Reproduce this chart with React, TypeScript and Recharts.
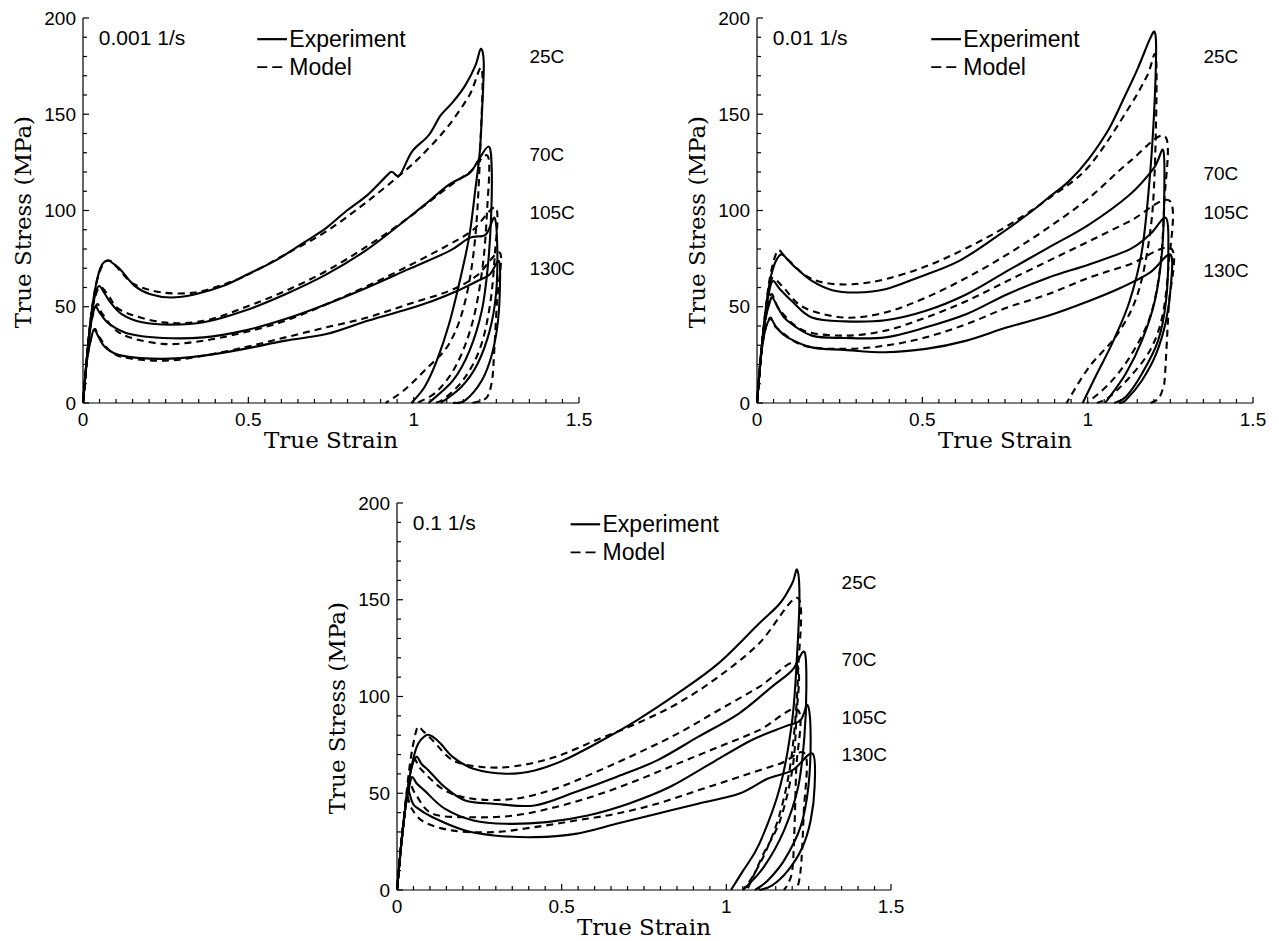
import { LineChart, Line, XAxis, YAxis, ReferenceDot, ReferenceLine } from "recharts";

type Pt = [number, number];

// axis ticks, only the major ones carry a label
const STRAIN_TICKS = [0, 0.05, 0.1, 0.15, 0.2, 0.25, 0.3, 0.35, 0.4, 0.45, 0.5, 0.55, 0.6, 0.65, 0.7, 0.75, 0.8, 0.85, 0.9, 0.95, 1, 1.05, 1.1, 1.15, 1.2, 1.25, 1.3, 1.35, 1.4, 1.45, 1.5];
const STRAIN_LABELS = [0, 0.5, 1, 1.5];
const STRESS_TICKS = [0, 10, 20, 30, 40, 50, 60, 70, 80, 90, 100, 110, 120, 130, 140, 150, 160, 170, 180, 190, 200];
const STRESS_LABELS = [0, 50, 100, 150, 200];

const TEMPS = ["25C", "70C", "105C", "130C"];
const RATES = ["0.001 1/s", "0.01 1/s", "0.1 1/s"];

// ---- 0.001 1/s ----
const r1Exp25: Pt[] = [[0, 0], [0.012, 24], [0.025, 46], [0.04, 62], [0.055, 71], [0.074, 74], [0.095, 72], [0.117, 68.6], [0.155, 61], [0.204, 56.5], [0.266, 54.8], [0.34, 56.5], [0.427, 61], [0.5, 67], [0.587, 74.5], [0.674, 84], [0.736, 91], [0.798, 100], [0.86, 108], [0.921, 118.5], [0.935, 120], [0.958, 118.5], [0.995, 130.6], [1.045, 139], [1.082, 149.5], [1.119, 156.4], [1.156, 165], [1.187, 175.4], [1.203, 184], [1.212, 177], [1.208, 156], [1.2, 130.6], [1.187, 111.6], [1.169, 87.5], [1.144, 66.8], [1.107, 41], [1.07, 22], [1.033, 8.3], [0.993, 0]];
const r1Mod25: Pt[] = [[0, 0], [0.012, 24], [0.025, 46], [0.04, 62], [0.06, 72], [0.08, 74], [0.1, 71], [0.155, 61.7], [0.241, 57.4], [0.34, 57.4], [0.427, 61.7], [0.5, 66.8], [0.612, 77.2], [0.736, 89.2], [0.86, 104.7], [0.983, 122], [1.045, 132.3], [1.107, 144.4], [1.169, 160], [1.206, 173.6], [1.203, 139], [1.187, 87.5], [1.156, 53], [1.107, 30.7], [1.033, 16.9], [0.97, 6.5], [0.915, 0]];
const r1Exp70: Pt[] = [[0, 0], [0.012, 24], [0.025, 45], [0.038, 57], [0.049, 60.8], [0.065, 57], [0.08, 53], [0.117, 46.2], [0.179, 41.9], [0.266, 40.7], [0.365, 41.9], [0.488, 47.9], [0.612, 56.5], [0.736, 66.8], [0.86, 79.8], [0.983, 96.1], [1.045, 104.7], [1.107, 113.4], [1.169, 119.4], [1.193, 125.4], [1.227, 133.2], [1.236, 122], [1.234, 96], [1.224, 70.3], [1.206, 47.9], [1.169, 27.2], [1.119, 11.7], [1.045, 0]];
const r1Mod70: Pt[] = [[0, 0], [0.012, 24], [0.025, 45], [0.04, 57], [0.056, 60], [0.08, 55], [0.117, 47.9], [0.241, 41.9], [0.365, 42.7], [0.488, 49.6], [0.612, 58.2], [0.736, 68.6], [0.86, 81.5], [0.983, 96.1], [1.107, 112.5], [1.17, 120], [1.225, 128], [1.222, 100], [1.208, 70], [1.178, 42], [1.13, 20], [1.07, 6], [1.01, 0]];
const r1Exp105: Pt[] = [[0, 0], [0.012, 24], [0.025, 42], [0.037, 50], [0.05, 47], [0.08, 41], [0.142, 35.8], [0.241, 33.8], [0.365, 34.1], [0.488, 37.6], [0.612, 43.6], [0.736, 51.3], [0.86, 60], [0.983, 69.4], [1.107, 78.9], [1.169, 85.8], [1.218, 87.5], [1.245, 96.1], [1.253, 78.9], [1.249, 56.5], [1.23, 37.6], [1.193, 20.3], [1.144, 8.3], [1.082, 0]];
const r1Mod105: Pt[] = [[0, 0], [0.012, 24], [0.025, 42], [0.043, 51.3], [0.06, 46], [0.117, 35.8], [0.241, 30.7], [0.365, 32.4], [0.488, 36.7], [0.612, 42.7], [0.736, 51.3], [0.86, 60.8], [0.983, 71.1], [1.107, 82.3], [1.18, 90], [1.249, 101.3], [1.245, 76], [1.23, 50], [1.2, 28], [1.15, 12], [1.09, 2], [1.06, 0]];
const r1Exp130: Pt[] = [[0, 0], [0.012, 22], [0.025, 34], [0.035, 38.4], [0.045, 35], [0.068, 28.9], [0.117, 24.6], [0.241, 22.9], [0.365, 24.6], [0.488, 28.1], [0.612, 32.4], [0.736, 35.8], [0.86, 42.7], [0.983, 48.8], [1.057, 53], [1.131, 58.2], [1.193, 63.4], [1.23, 66.8], [1.258, 73.7], [1.261, 61.7], [1.255, 42.7], [1.237, 25.5], [1.206, 11.7], [1.156, 1.4], [1.119, 0]];
const r1Mod130: Pt[] = [[0, 0], [0.012, 22], [0.025, 34], [0.037, 38.4], [0.05, 34], [0.105, 24.6], [0.241, 22], [0.365, 24.6], [0.488, 28.9], [0.612, 34.1], [0.736, 39.3], [0.86, 44.4], [0.983, 51.3], [1.107, 58.2], [1.19, 66], [1.261, 78], [1.252, 53], [1.243, 25], [1.237, 11.7], [1.222, 3.1], [1.19, 0.5], [1.169, 0]];

// ---- 0.01 1/s ----
const r2Exp25: Pt[] = [[0, 0], [0.012, 25], [0.025, 47], [0.04, 64], [0.055, 73], [0.074, 77.2], [0.095, 74], [0.117, 70.3], [0.166, 63.4], [0.228, 58.6], [0.302, 57.4], [0.388, 59.1], [0.486, 65.1], [0.61, 73.7], [0.733, 87.5], [0.831, 99.6], [0.88, 106.5], [0.942, 115], [1.004, 127], [1.065, 142.6], [1.114, 160], [1.151, 173.6], [1.188, 189], [1.203, 192.6], [1.207, 182], [1.2, 147.8], [1.186, 113.4], [1.164, 78.9], [1.127, 53], [1.078, 32.4], [1.028, 15.2], [0.985, 0]];
const r2Mod25: Pt[] = [[0, 0], [0.012, 25], [0.025, 47], [0.04, 66], [0.062, 78.9], [0.085, 76], [0.142, 66.8], [0.203, 62.5], [0.289, 61.7], [0.388, 64.3], [0.511, 71], [0.634, 80.5], [0.757, 92], [0.88, 106], [1.004, 123], [1.127, 154], [1.18, 170], [1.207, 178.8], [1.203, 122], [1.188, 87.5], [1.151, 56.5], [1.09, 35.8], [1.004, 18.6], [0.936, 0]];
const r2Exp70: Pt[] = [[0, 0], [0.012, 25], [0.025, 45], [0.038, 59], [0.049, 63.4], [0.07, 59], [0.105, 53], [0.166, 44.4], [0.265, 42.4], [0.388, 43], [0.511, 47.9], [0.634, 56.5], [0.757, 68.6], [0.88, 80.6], [1.004, 92.7], [1.127, 108.2], [1.2, 122], [1.228, 131.4], [1.232, 113.4], [1.225, 78.9], [1.203, 53], [1.164, 32.4], [1.115, 15.2], [1.053, 0]];
const r2Mod70: Pt[] = [[0, 0], [0.012, 25], [0.025, 45], [0.038, 60], [0.049, 65], [0.08, 60], [0.142, 49.6], [0.265, 44.4], [0.388, 47], [0.511, 54.8], [0.634, 65.1], [0.757, 77.2], [0.88, 91], [1.004, 106.5], [1.127, 125.4], [1.235, 138.3], [1.232, 104.7], [1.219, 70.3], [1.188, 44.4], [1.127, 23.8], [1.065, 10], [0.998, 0]];
const r2Exp105: Pt[] = [[0, 0], [0.012, 25], [0.025, 43], [0.038, 52], [0.047, 54.8], [0.065, 49], [0.092, 42.7], [0.166, 35], [0.265, 33.8], [0.388, 34.1], [0.511, 39.3], [0.634, 46.2], [0.757, 56.5], [0.88, 65.1], [1.004, 72], [1.127, 79.8], [1.188, 87.5], [1.237, 96.1], [1.244, 78.9], [1.237, 53], [1.213, 32.4], [1.164, 15.2], [1.115, 3.1], [1.08, 0]];
const r2Mod105: Pt[] = [[0, 0], [0.012, 25], [0.025, 43], [0.043, 56.5], [0.07, 48], [0.142, 37.6], [0.265, 35], [0.388, 37.6], [0.511, 44.4], [0.634, 53], [0.757, 63.4], [0.88, 73.7], [1.004, 84], [1.127, 94.4], [1.25, 104.7], [1.244, 70.3], [1.225, 44.4], [1.188, 27.2], [1.127, 13.4], [1.065, 3.1], [1.028, 0]];
const r2Exp130: Pt[] = [[0, 0], [0.012, 24], [0.025, 38], [0.041, 43.6], [0.06, 39], [0.092, 34.1], [0.166, 28.9], [0.265, 27.6], [0.388, 26.4], [0.511, 28.1], [0.634, 32.4], [0.757, 39.3], [0.88, 45.3], [1.004, 53], [1.102, 60], [1.188, 67.7], [1.25, 77.2], [1.252, 61.7], [1.237, 42.7], [1.207, 25.5], [1.164, 11.7], [1.115, 1.4], [1.095, 0]];
const r2Mod130: Pt[] = [[0, 0], [0.012, 24], [0.025, 38], [0.041, 44.4], [0.06, 39], [0.142, 29.8], [0.265, 28.1], [0.388, 29.8], [0.511, 34.1], [0.634, 41], [0.757, 49.6], [0.88, 56.5], [1.004, 65.1], [1.127, 72], [1.254, 80], [1.245, 50], [1.234, 15], [1.229, 8.5], [1.215, 2.5], [1.19, 0]];

// ---- 0.1 1/s ----
const r3Exp25: Pt[] = [[0, 0], [0.012, 22], [0.025, 42], [0.04, 60], [0.06, 74], [0.089, 80], [0.11, 79], [0.133, 75.6], [0.17, 68.7], [0.232, 62.7], [0.331, 60.1], [0.418, 61.8], [0.505, 67], [0.604, 75.6], [0.728, 87.7], [0.852, 101.6], [0.976, 117.1], [1.1, 137.8], [1.163, 148.2], [1.2, 158.5], [1.215, 165.5], [1.222, 151.6], [1.215, 122.3], [1.2, 87.7], [1.163, 53.2], [1.1, 23.8], [1.051, 10], [1.014, 0]];
const r3Mod25: Pt[] = [[0, 0], [0.012, 22], [0.025, 44], [0.04, 66], [0.055, 80], [0.065, 84.3], [0.08, 82], [0.108, 77.4], [0.17, 67], [0.257, 63.6], [0.356, 63.9], [0.48, 68.7], [0.604, 77.4], [0.728, 86], [0.852, 96.4], [0.976, 110.2], [1.1, 127.5], [1.218, 150.8], [1.218, 113.6], [1.208, 85], [1.19, 60], [1.16, 38], [1.12, 20], [1.08, 7], [1.05, 0]];
const r3Exp70: Pt[] = [[0, 0], [0.012, 22], [0.025, 42], [0.04, 60], [0.058, 68.7], [0.075, 65], [0.096, 61.8], [0.145, 53.2], [0.207, 46.3], [0.294, 44.6], [0.418, 43.7], [0.542, 50.6], [0.666, 58.4], [0.79, 67], [0.914, 79.1], [1.038, 91.2], [1.138, 105], [1.2, 113.6], [1.237, 123.1], [1.243, 105], [1.237, 79.1], [1.218, 53.2], [1.175, 30.7], [1.113, 11.7], [1.051, 0]];
const r3Mod70: Pt[] = [[0, 0], [0.012, 22], [0.025, 43], [0.04, 62], [0.052, 67.9], [0.075, 62], [0.145, 51.5], [0.232, 47.1], [0.356, 47.1], [0.48, 52.3], [0.604, 61], [0.728, 70.5], [0.852, 80.8], [0.976, 92.9], [1.1, 105], [1.212, 117.1], [1.212, 87.7], [1.2, 61.8], [1.163, 35.9], [1.113, 18.7], [1.063, 0]];
const r3Exp105: Pt[] = [[0, 0], [0.012, 22], [0.025, 42], [0.038, 54], [0.046, 58.4], [0.06, 55], [0.083, 51.5], [0.145, 42], [0.232, 35.9], [0.331, 34.2], [0.455, 35.1], [0.579, 38.5], [0.703, 44.6], [0.828, 53.2], [0.952, 65.3], [1.076, 77.4], [1.175, 84.3], [1.225, 87.7], [1.247, 95.5], [1.256, 79.1], [1.249, 53.2], [1.225, 32.5], [1.175, 15.2], [1.125, 4.8], [1.087, 0]];
const r3Mod105: Pt[] = [[0, 0], [0.012, 22], [0.025, 42], [0.04, 54], [0.055, 50], [0.108, 39.4], [0.232, 37.6], [0.356, 38.5], [0.48, 42.8], [0.604, 48.9], [0.728, 56.6], [0.852, 65.3], [0.976, 73.9], [1.1, 82.6], [1.218, 92.9], [1.212, 61.8], [1.206, 27.3], [1.2, 10], [1.187, 3.1], [1.175, 0]];
const r3Exp130: Pt[] = [[0, 0], [0.012, 22], [0.025, 42], [0.033, 51.5], [0.045, 46], [0.058, 42.8], [0.108, 37.6], [0.207, 30.7], [0.294, 28.2], [0.418, 27.3], [0.542, 29], [0.666, 34.2], [0.79, 39.4], [0.914, 44.6], [1.038, 49.7], [1.125, 57.5], [1.2, 61.8], [1.262, 70.5], [1.268, 53.2], [1.256, 35.9], [1.231, 22.1], [1.187, 10], [1.138, 2.2], [1.1, 0]];
const r3Mod130: Pt[] = [[0, 0], [0.012, 22], [0.025, 42], [0.03, 48.9], [0.045, 42], [0.083, 35.1], [0.17, 30.7], [0.294, 29.9], [0.418, 32.5], [0.542, 35.9], [0.666, 39.4], [0.79, 44.6], [0.914, 51.5], [1.038, 58.4], [1.163, 65.3], [1.24, 70], [1.235, 40], [1.228, 15], [1.22, 4], [1.21, 0]];

// temperature label heights (MPa) for each panel
const r1TempY = [180, 129, 99, 70];
const r2TempY = [180, 119, 99, 69];
const r3TempY = [159, 119, 89, 70];

const SANS = '"Liberation Sans", Arial, Helvetica, sans-serif';
const SERIF = '"DejaVu Serif", serif';

// layout
const YW = 75;
const XH = 60;
const MT = 10;
const MR = 20;

const PANELS = [
  { rate: RATES[0], exp: [r1Exp25, r1Exp70, r1Exp105, r1Exp130], model: [r1Mod25, r1Mod70, r1Mod105, r1Mod130], tempY: r1TempY, plotLeft: 83, plotTop: 18, plotW: 496, plotH: 385 },
  { rate: RATES[1], exp: [r2Exp25, r2Exp70, r2Exp105, r2Exp130], model: [r2Mod25, r2Mod70, r2Mod105, r2Mod130], tempY: r2TempY, plotLeft: 757, plotTop: 18, plotW: 496, plotH: 385 },
  { rate: RATES[2], exp: [r3Exp25, r3Exp70, r3Exp105, r3Exp130], model: [r3Mod25, r3Mod70, r3Mod105, r3Mod130], tempY: r3TempY, plotLeft: 397, plotTop: 503, plotW: 494, plotH: 387 },
];

const toXY = (pts: Pt[]) => pts.map(([x, y]) => ({ x, y }));

// catmull-rom through the points, the loops go back in x so monotone curves are no use
function smoothCurve(context: any) {
  let pts: number[][] = [];
  return {
    areaStart() {},
    areaEnd() {},
    lineStart() {
      pts = [];
    },
    point(x: number, y: number) {
      pts.push([+x, +y]);
    },
    lineEnd() {
      const n = pts.length;
      if (!n) return;
      context.moveTo(pts[0][0], pts[0][1]);
      for (let i = 0; i < n - 1; i++) {
        const p0 = pts[i - 1] || pts[i];
        const p1 = pts[i];
        const p2 = pts[i + 1];
        const p3 = pts[i + 2] || p2;
        context.bezierCurveTo(
          p1[0] + (p2[0] - p0[0]) / 6,
          p1[1] + (p2[1] - p0[1]) / 6,
          p2[0] - (p3[0] - p1[0]) / 6,
          p2[1] - (p3[1] - p1[1]) / 6,
          p2[0],
          p2[1]
        );
      }
    },
  };
}

// ticks point inwards, labels outside (matlab style box)
function BottomTick(props: any) {
  const { x, y, payload } = props;
  const major = STRAIN_LABELS.includes(payload.value);
  return (
    <g>
      <line x1={x} x2={x} y1={y} y2={y - (major ? 6 : 4)} stroke="#000" strokeWidth={1.2} />
      {major && (
        <text x={x} y={y + 16} textAnchor="middle" dominantBaseline="central" fontFamily={SANS} fontSize={19} fill="#000">
          {String(payload.value)}
        </text>
      )}
    </g>
  );
}

function TopTick(props: any) {
  const { x, y, payload } = props;
  const major = STRAIN_LABELS.includes(payload.value);
  return <line x1={x} x2={x} y1={y} y2={y + (major ? 6 : 4)} stroke="#000" strokeWidth={1.2} />;
}

function LeftTick(props: any) {
  const { x, y, payload } = props;
  const major = STRESS_LABELS.includes(payload.value);
  return (
    <g>
      <line x1={x} x2={x + (major ? 6 : 4)} y1={y} y2={y} stroke="#000" strokeWidth={1.2} />
      {major && (
        <text x={x - 7} y={y} textAnchor="end" dominantBaseline="central" fontFamily={SANS} fontSize={19} fill="#000">
          {String(payload.value)}
        </text>
      )}
    </g>
  );
}

function RightTick(props: any) {
  const { x, y, payload } = props;
  const major = STRESS_LABELS.includes(payload.value);
  return <line x1={x} x2={x - (major ? 6 : 4)} y1={y} y2={y} stroke="#000" strokeWidth={1.2} />;
}

function note(key: string, x: number, y: number, text: string, size: number) {
  return (
    <ReferenceDot
      key={key}
      xAxisId="b"
      yAxisId="l"
      x={x}
      y={y}
      r={0}
      ifOverflow="visible"
      shape={(p: any) => (
        <text x={p.cx} y={p.cy} textAnchor="start" dominantBaseline="central" fontFamily={SANS} fontSize={size} fill="#000">
          {text}
        </text>
      )}
    />
  );
}

function Panel({ panel }: { panel: (typeof PANELS)[number] }) {
  const { rate, exp, model, tempY, plotLeft, plotTop, plotW, plotH } = panel;
  const width = YW + plotW + MR;
  const height = MT + plotH + XH;

  return (
    <div style={{ position: "absolute", left: plotLeft - YW, top: plotTop - MT }}>
      <LineChart width={width} height={height} margin={{ top: MT, right: MR, left: 0, bottom: 0 }}>
        <XAxis
          xAxisId="b"
          type="number"
          dataKey="x"
          domain={[0, 1.5]}
          ticks={STRAIN_TICKS}
          interval={0}
          height={XH}
          tickSize={0}
          tickMargin={0}
          tickLine={false}
          axisLine={{ stroke: "#000", strokeWidth: 1.2 }}
          tick={(p: any) => <BottomTick {...p} />}
          label={{
            content: (p: any) => {
              const vb = p.viewBox;
              return (
                <text x={vb.x + vb.width / 2} y={vb.y + 37} textAnchor="middle" dominantBaseline="central" fontFamily={SERIF} fontSize={23} fill="#000">
                  True Strain
                </text>
              );
            },
          }}
        />
        <XAxis
          xAxisId="t"
          orientation="top"
          type="number"
          dataKey="x"
          domain={[0, 1.5]}
          ticks={STRAIN_TICKS}
          interval={0}
          height={0}
          tickSize={0}
          tickMargin={0}
          tickLine={false}
          axisLine={{ stroke: "#000", strokeWidth: 1.2 }}
          tick={(p: any) => <TopTick {...p} />}
        />
        <YAxis
          yAxisId="l"
          type="number"
          domain={[0, 200]}
          ticks={STRESS_TICKS}
          interval={0}
          width={YW}
          tickSize={0}
          tickMargin={0}
          tickLine={false}
          axisLine={{ stroke: "#000", strokeWidth: 1.2 }}
          tick={(p: any) => <LeftTick {...p} />}
          label={{
            content: (p: any) => {
              const vb = p.viewBox;
              const cx = vb.x + vb.width - 60;
              const cy = vb.y + vb.height * 0.53;
              return (
                <text x={cx} y={cy} transform={`rotate(-90 ${cx} ${cy})`} textAnchor="middle" dominantBaseline="central" fontFamily={SERIF} fontSize={23} fill="#000">
                  True Stress (MPa)
                </text>
              );
            },
          }}
        />
        <YAxis
          yAxisId="r"
          orientation="right"
          type="number"
          domain={[0, 200]}
          ticks={STRESS_TICKS}
          interval={0}
          width={0}
          tickSize={0}
          tickMargin={0}
          tickLine={false}
          axisLine={{ stroke: "#000", strokeWidth: 1.2 }}
          tick={(p: any) => <RightTick {...p} />}
        />

        {exp.map((pts, i) => (
          <Line
            key={`exp-${TEMPS[i]}`}
            xAxisId="b"
            yAxisId="l"
            data={toXY(pts)}
            dataKey="y"
            name={`Experiment ${TEMPS[i]}`}
            type={smoothCurve as any}
            stroke="#000"
            strokeWidth={2.1}
            dot={false}
            activeDot={false}
            isAnimationActive={false}
          />
        ))}
        {model.map((pts, i) => (
          <Line
            key={`mod-${TEMPS[i]}`}
            xAxisId="b"
            yAxisId="l"
            data={toXY(pts)}
            dataKey="y"
            name={`Model ${TEMPS[i]}`}
            type={smoothCurve as any}
            stroke="#000"
            strokeWidth={2.1}
            strokeDasharray="7 5"
            dot={false}
            activeDot={false}
            isAnimationActive={false}
          />
        ))}

        {/* legend */}
        <ReferenceLine xAxisId="b" yAxisId="l" segment={[{ x: 0.527, y: 189 }, { x: 0.617, y: 189 }]} stroke="#000" strokeWidth={2.2} />
        <ReferenceLine xAxisId="b" yAxisId="l" segment={[{ x: 0.527, y: 174.5 }, { x: 0.617, y: 174.5 }]} stroke="#000" strokeWidth={1.8} strokeDasharray="10 5" />
        {note("leg-exp", 0.624, 189, "Experiment", 23)}
        {note("leg-mod", 0.624, 174.5, "Model", 23)}
        {note("rate", 0.048, 190, rate, 21)}
        {TEMPS.map((t, i) => note(`t-${t}`, 1.35, tempY[i], t, 19))}
      </LineChart>
    </div>
  );
}

export default function App() {
  return (
    <div style={{ position: "absolute", left: 0, top: 0, width: 1279, height: 941, background: "#fff" }}>
      {PANELS.map((p) => (
        <Panel key={p.rate} panel={p} />
      ))}
    </div>
  );
}
